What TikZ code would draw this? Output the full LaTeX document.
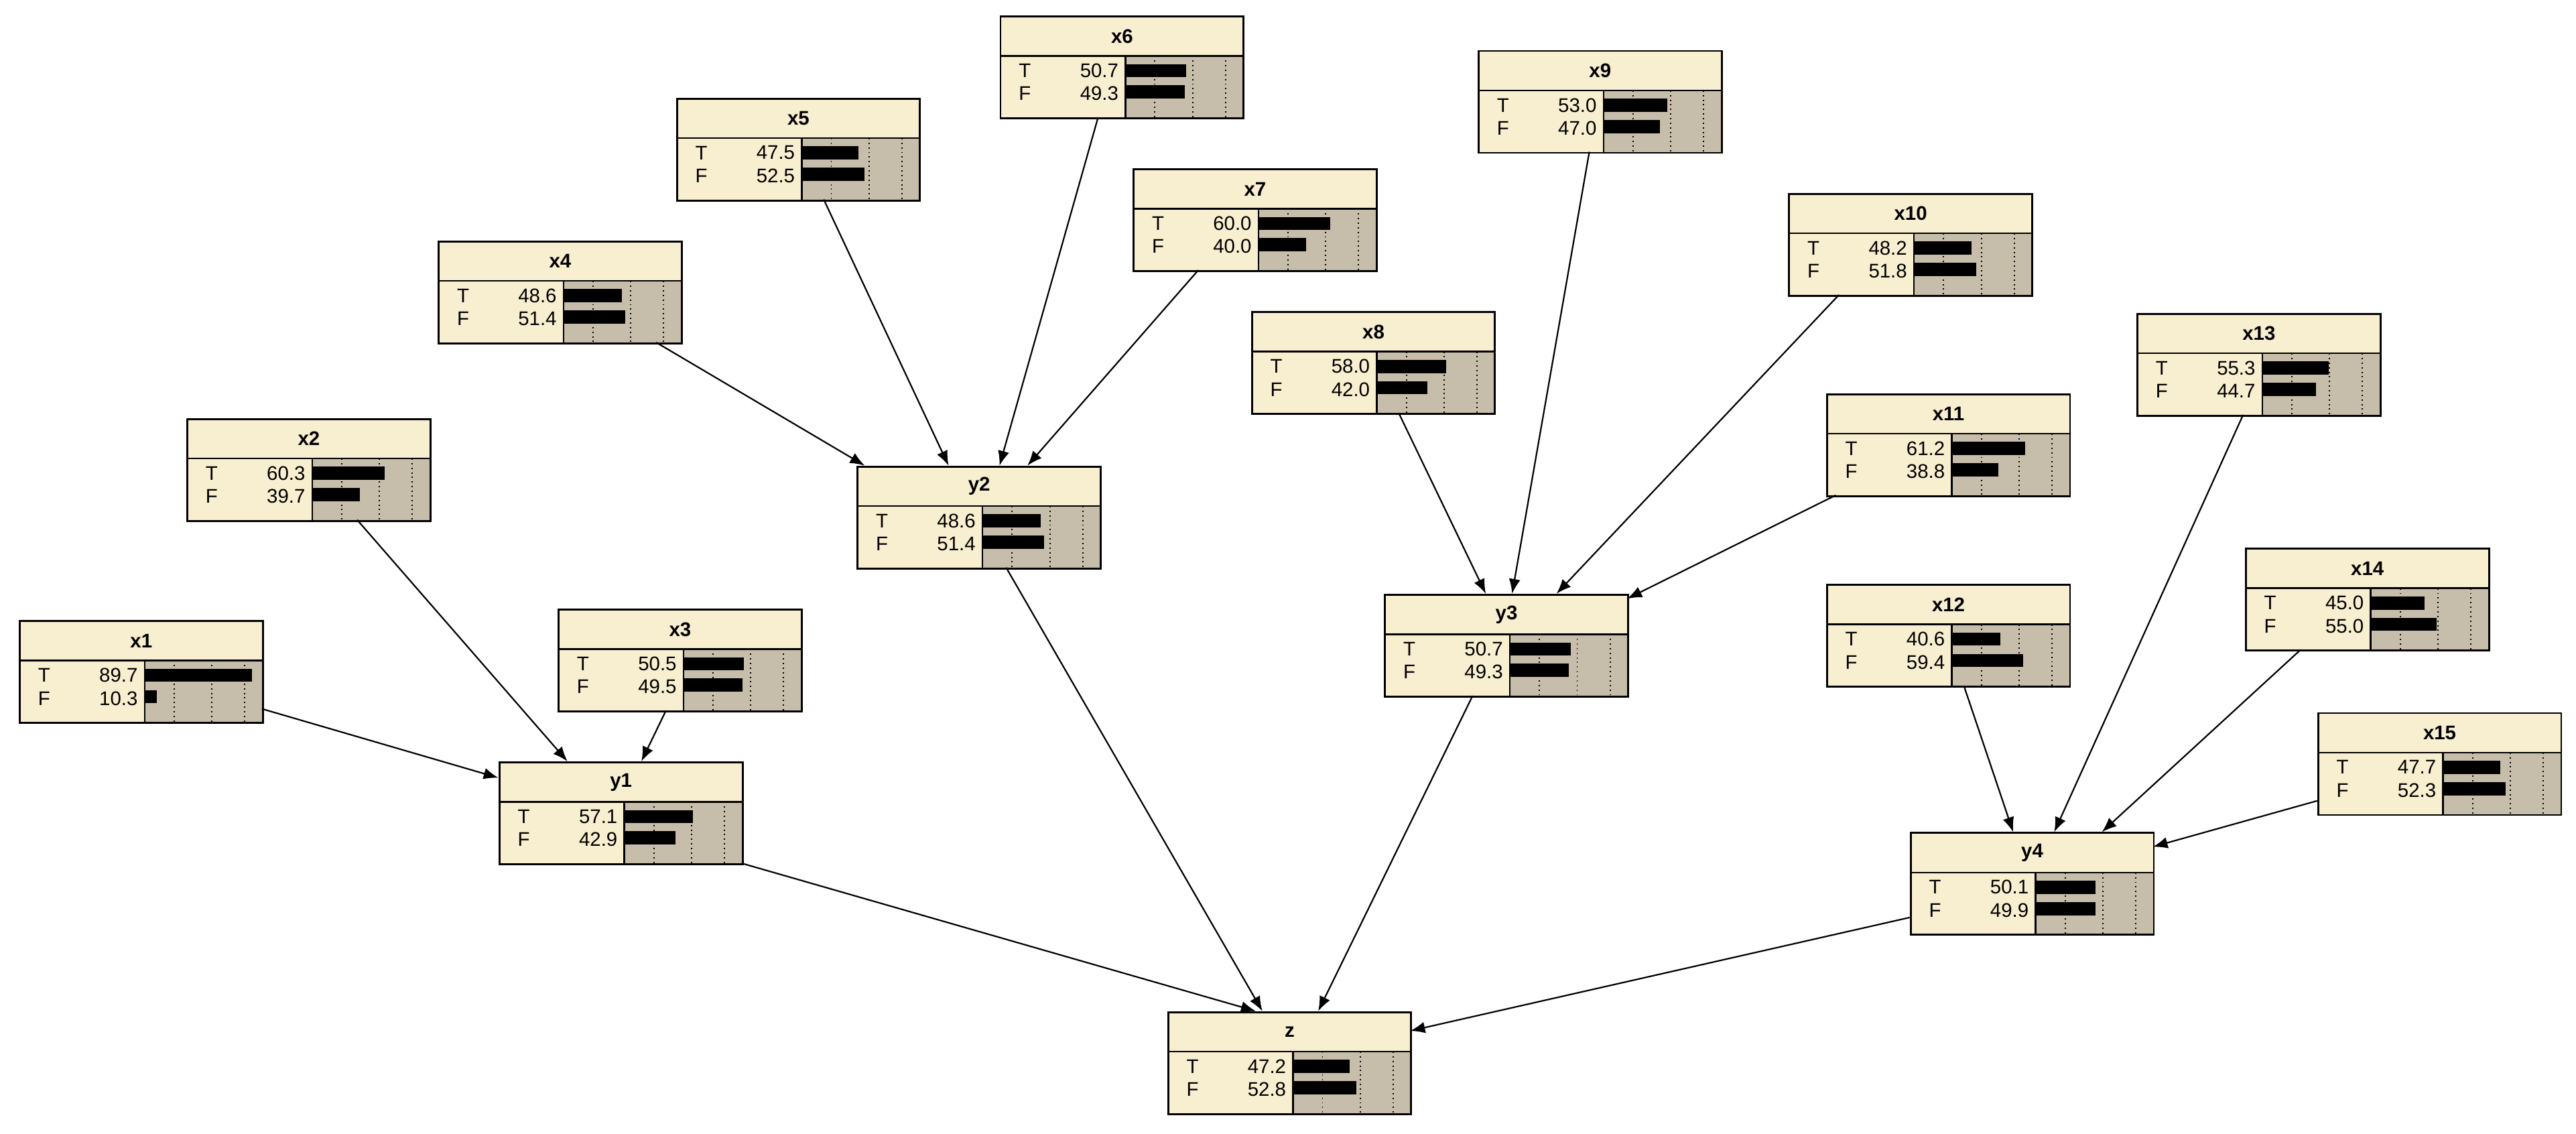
\documentclass[tikz,border=0pt]{standalone}
\usepackage{fontspec}
\setmainfont{Liberation Sans}
\usetikzlibrary{calc,arrows.meta}
\definecolor{cream}{RGB}{248,238,208}
\definecolor{bargray}{RGB}{198,190,170}
\tikzset{
  bnbox/.style={draw=black,line width=1.2pt,minimum width=148pt,minimum height=62pt,inner sep=0pt,fill=none},
  lbl/.style={font=\fontsize{12}{14}\selectfont,inner sep=0pt},
  edge/.style={line width=0.9pt,-{Latex[length=9pt,width=7pt]}}
}
\newcommand\bnnode[6]{%
 \begin{scope}[shift={(#2,#3)}]
  \fill[cream] (0,0) rectangle (148,62);
  \fill[bargray] (76,24) rectangle (148,62);
  \foreach \d in {18,41,61}{\draw[dotted,line width=0.8pt] (76+\d,24) -- (76+\d,62);}
  \fill[black] (76,29) rectangle ({76+0.73*#5},37);
  \fill[black] (76,42) rectangle ({76+0.73*#6},50);
  \draw[line width=1pt] (0,24) -- (148,24);
  \draw[line width=1pt] (76,24) -- (76,62);
  \node[lbl,font=\fontsize{12}{14}\selectfont\bfseries] at (74,12) {#4};
  \node[lbl,anchor=west] at (11,33) {T};
  \node[lbl,anchor=west] at (11,47) {F};
  \node[lbl,anchor=east] at (72,33) {#5};
  \node[lbl,anchor=east] at (72,47) {#6};
  \node[bnbox] (#1) at (74,31) {};
 \end{scope}}
\newcommand\ed[4]{\draw[edge] ($(#1.north west)+(#2)$) -- ($(#3.north west)+(#4)$);}
\begin{document}
\begin{tikzpicture}[x=1pt,y=-1pt]
\useasboundingbox (0,0) rectangle (1568,690);
\bnnode{x1}{12}{378}{x1}{89.7}{10.3}
\bnnode{x2}{114}{255}{x2}{60.3}{39.7}
\bnnode{x3}{340}{371}{x3}{50.5}{49.5}
\bnnode{x4}{267}{147}{x4}{48.6}{51.4}
\bnnode{x5}{412}{60}{x5}{47.5}{52.5}
\bnnode{x6}{609}{10}{x6}{50.7}{49.3}
\bnnode{x7}{690}{103}{x7}{60.0}{40.0}
\bnnode{x8}{762}{190}{x8}{58.0}{42.0}
\bnnode{x9}{900}{31}{x9}{53.0}{47.0}
\bnnode{x10}{1089}{118}{x10}{48.2}{51.8}
\bnnode{x11}{1112}{240}{x11}{61.2}{38.8}
\bnnode{x12}{1112}{356}{x12}{40.6}{59.4}
\bnnode{x13}{1301}{191}{x13}{55.3}{44.7}
\bnnode{x14}{1367}{334}{x14}{45.0}{55.0}
\bnnode{x15}{1411}{434}{x15}{47.7}{52.3}
\bnnode{y1}{304}{464}{y1}{57.1}{42.9}
\bnnode{y2}{522}{284}{y2}{48.6}{51.4}
\bnnode{y3}{843}{362}{y3}{50.7}{49.3}
\bnnode{y4}{1163}{507}{y4}{50.1}{49.9}
\bnnode{z}{711}{616}{z}{47.2}{52.8}
\ed{x1}{148,54}{y1}{0,10}
\ed{x2}{104,62}{y1}{42,0}
\ed{x3}{66,62}{y1}{87,0}
\ed{x4}{133,62}{y2}{5,0}
\ed{x5}{90,62}{y2}{56,0}
\ed{x6}{60,62}{y2}{87,0}
\ed{x7}{40,62}{y2}{104,0}
\ed{x8}{90,62}{y3}{62,0}
\ed{x9}{68,62}{y3}{78,0}
\ed{x10}{31,62}{y3}{105,0}
\ed{x11}{6,62}{y3}{148,3}
\ed{x12}{84,62}{y4}{63,0}
\ed{x13}{65,62}{y4}{88,0}
\ed{x14}{34,62}{y4}{117,0}
\ed{x15}{0,54}{y4}{148,9}
\ed{y1}{148,62}{z}{54,0}
\ed{y2}{91,62}{z}{58,0}
\ed{y3}{54,62}{z}{92,0}
\ed{y4}{0,52}{z}{148,12}
\end{tikzpicture}
\end{document}
